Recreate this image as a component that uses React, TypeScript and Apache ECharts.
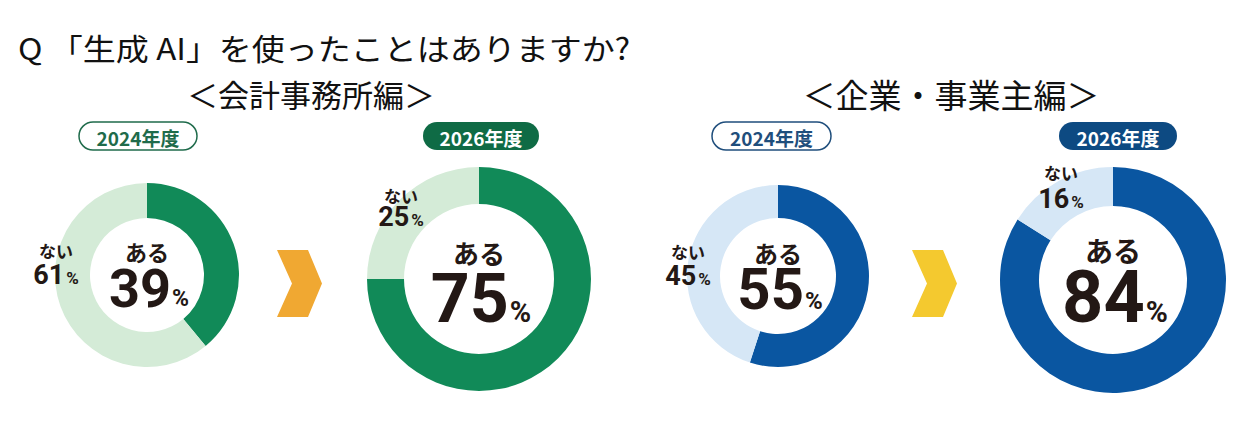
import React, { useEffect, useRef } from 'react';
import * as echarts from 'echarts';

// ---- data ----
const questionTitle = 'Q 「生成 AI」を使ったことはありますか?';
const groupTitles = ['＜会計事務所編＞', '＜企業・事業主編＞'];
const yearLabels = ['2024年度', '2026年度', '2024年度', '2026年度'];
const categories = ['ある', 'ない'];
const aruValues = [39, 75, 55, 84];
const naiValues = [61, 25, 45, 16];

// ---- layout / style ----
const W = 1258;
const H = 421;
const INK = '#231815';
const JP = '"Noto Sans CJK JP", "Noto Sans", sans-serif';
const NUM = 'Roboto, "Noto Sans", sans-serif';
const centers = [[147, 275], [479, 279], [778, 276], [1113, 280]];
const radii = [[57, 92], [75, 112], [58, 91], [74, 113]];
const darkColors = ['#118a58', '#118a58', '#0a56a1', '#0a56a1'];
const lightColors = ['#d4ebd7', '#d4ebd7', '#d6e7f6', '#d6e7f6'];
const pillBoxes = [[79, 122, 118, 28], [423, 122, 116, 28], [712, 122, 119, 28], [1059, 122, 118, 28]];
const pillFilled = [false, true, false, true];
const pillDark = ['#1f6b4b', '#0f6b45', '#1f4e7c', '#0d4a82'];
// center label sizes: [aruFont, aruDy, numFont, numDy]
const centerStyle = [[22, -24, 54, 13], [26, -27, 68, 20], [24, -24, 58, 13], [28, -30, 72, 17]];
// outside "ない" label: [x, yNai, yNum, naiFont, numFont]
const outsideStyle = [[56, 250, 275, 17, 27], [401, 195, 217, 17, 27], [688, 251, 276, 17, 27], [1061, 172, 199, 17, 27]];
const arrows = [{ x: 277, color: '#f0a832' }, { x: 912, color: '#f4c92f' }];
const groupTitleBoxes = [{ x: 311, y: 93, size: 31 }, { x: 951, y: 94, size: 33 }];

let measureCtx: CanvasRenderingContext2D | null = null;
function textWidth(t: string, size: number): number {
  if (!measureCtx) measureCtx = document.createElement('canvas').getContext('2d');
  if (!measureCtx) return t.length * size * 0.56;
  measureCtx.font = `700 ${size}px ${NUM}`;
  return measureCtx.measureText(t).width;
}

// number + small "%" as two text elements, baseline-aligned
function percentTexts(value: number, cx: number, cy: number, numF: number, pctF: number, gap: number, dx: number): any[] {
  const s = String(value);
  const nw = textWidth(s, numF);
  const pw = textWidth('%', pctF);
  const x0 = cx - (nw + gap + pw) / 2 + dx;
  return [
    {
      type: 'text', x: x0, y: cy, z: 10,
      style: { text: s, fontFamily: NUM, fontSize: numF, fontWeight: 700, fill: INK, align: 'left', verticalAlign: 'middle', lineHeight: Math.round(numF * 0.75) },
    },
    {
      type: 'text', x: x0 + nw + gap, y: cy + 0.34 * (numF - pctF), z: 10,
      style: { text: '%', fontFamily: NUM, fontSize: pctF, fontWeight: 700, fill: INK, align: 'left', verticalAlign: 'middle', lineHeight: Math.round(pctF * 0.8) },
    },
  ];
}

function App() {
  const ref = useRef<HTMLDivElement>(null);
  useEffect(() => {
    document.body.style.margin = '0';
    const chart = echarts.init(ref.current!, undefined, { renderer: 'svg' });

    const series: any[] = aruValues.map((v, i) => ({
      type: 'pie',
      center: centers[i],
      radius: radii[i],
      startAngle: 90,
      clockwise: true,
      silent: true,
      z: 2,
      label: { show: false },
      labelLine: { show: false },
      emphasis: { disabled: true },
      data: [
        { name: categories[0], value: v, itemStyle: { color: darkColors[i] } },
        { name: categories[1], value: naiValues[i], itemStyle: { color: lightColors[i] } },
      ],
    }));

    const graphics: any[] = [];
    graphics.push({
      type: 'text', x: 18, y: 47, scaleX: 1.1, z: 10,
      style: { text: questionTitle, fontFamily: JP, fontSize: 30, fontWeight: 400, fill: '#111', align: 'left', verticalAlign: 'middle' },
    });
    groupTitles.forEach((t, i) => {
      const b = groupTitleBoxes[i];
      graphics.push({
        type: 'text', x: b.x, y: b.y, z: 10,
        style: { text: t, fontFamily: JP, fontSize: b.size, fontWeight: 400, fill: '#111', align: 'center', verticalAlign: 'middle' },
      });
    });
    yearLabels.forEach((t, i) => {
      const [x, y, w, h] = pillBoxes[i];
      const filled = pillFilled[i];
      graphics.push({
        type: 'rect', z: 10,
        shape: { x, y, width: w, height: h, r: h / 2 },
        style: filled ? { fill: pillDark[i] } : { fill: '#fff', stroke: pillDark[i], lineWidth: 1.5 },
      });
      graphics.push({
        type: 'text', x: x + w / 2, y: y + h / 2 + 1, z: 11,
        style: { text: t, fontFamily: JP, fontSize: 19, fontWeight: 700, fill: filled ? '#fff' : pillDark[i], align: 'center', verticalAlign: 'middle', lineHeight: 20 },
      });
    });
    aruValues.forEach((v, i) => {
      const [cx, cy] = centers[i];
      const [aruF, aruDy, numF, numDy] = centerStyle[i];
      graphics.push({
        type: 'text', x: cx, y: cy + aruDy, z: 10,
        style: { text: categories[0], fontFamily: JP, fontSize: aruF, fontWeight: 700, fill: INK, align: 'center', verticalAlign: 'middle', lineHeight: Math.round(aruF * 0.9) },
      });
      graphics.push(...percentTexts(v, cx, cy + numDy, numF, Math.round(numF * 0.42), 1, 2));
      const [ox, oy1, oy2, nf, mf] = outsideStyle[i];
      graphics.push({
        type: 'text', x: ox, y: oy1, z: 10,
        style: { text: categories[1], fontFamily: JP, fontSize: nf, fontWeight: 700, fill: INK, align: 'center', verticalAlign: 'middle', lineHeight: 16 },
      });
      graphics.push(...percentTexts(naiValues[i], ox, oy2, mf, Math.round(mf * 0.62), 2, 0));
    });
    arrows.forEach((a) => {
      const x = a.x, y = 250;
      graphics.push({
        type: 'polygon', z: 10,
        shape: { points: [[x, y], [x + 31, y], [x + 45, y + 33.5], [x + 31, y + 67], [x, y + 67], [x + 15, y + 33.5]] },
        style: { fill: a.color },
      });
    });

    chart.setOption({
      animation: false,
      backgroundColor: '#ffffff',
      series,
      graphic: { elements: graphics },
    });
    return () => chart.dispose();
  }, []);
  return <div ref={ref} style={{ position: 'absolute', left: 0, top: 0, width: W, height: H }} />;
}

export default App;
